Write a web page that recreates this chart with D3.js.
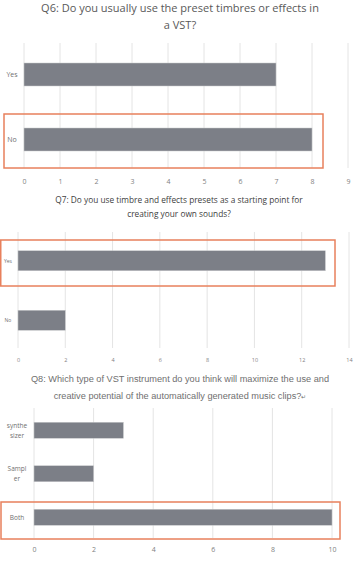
<!DOCTYPE html>
<html>
<head>
<meta charset="utf-8">
<script src="https://cdn.jsdelivr.net/npm/d3@7"></script>
<style>
body{margin:0;background:#fff;}
svg{display:block;}
</style>
</head>
<body>
<div id="content"></div>
<script>
// Q6
var q6_title = ["Q6: Do you usually use the preset timbres or effects in", "a VST?"];
var q6_cats = [["Yes"], ["No"]];
var q6_values = [7, 8];
var q6_ticks = [0, 1, 2, 3, 4, 5, 6, 7, 8, 9];

// Q7
var q7_title = ["Q7: Do you use timbre and effects presets as a starting point for", "creating your own sounds?"];
var q7_cats = [["Yes"], ["No"]];
var q7_values = [13, 2];
var q7_ticks = [0, 2, 4, 6, 8, 10, 12, 14];

// Q8
var q8_title = ["Q8: Which type of VST instrument do you think will maximize the use and", "creative potential of the automatically generated music clips?"];
var q8_cats = [["synthe", "sizer"], ["Sampl", "er"], ["Both"]];
var q8_values = [3, 2, 10];
var q8_ticks = [0, 2, 4, 6, 8, 10];

var W = 354, H = 562;
var svg = d3.select('#content').append('svg')
    .attr('width', W)
    .attr('height', H);

function plot_bars(o){
    var g = svg.append('g');
    var x = d3.scaleLinear()
        .domain([0, d3.max(o.ticks)])
        .range([o.x0, o.x1]);
    var keys = o.cats.map(function(c){ return c.join(''); });
    var y = d3.scalePoint()
        .domain(keys)
        .range([o.y0, o.y1])
        .padding(0.5);

    // title
    g.selectAll('text.title')
        .data(o.title)
        .enter()
        .append('text')
        .attr('class', 'title')
        .attr('x', o.titleX)
        .attr('y', function(d, i){ return o.titleY + i * o.titleGap; })
        .attr('text-anchor', 'middle')
        .attr('font-family', o.titleFont)
        .attr('font-size', o.titleSize)
        .attr('fill', o.titleColor)
        .text(function(d){ return d; });

    // grid
    g.append('g')
        .selectAll('line')
        .data(o.ticks)
        .enter()
        .append('line')
        .attr('x1', function(t){ return x(t); })
        .attr('x2', function(t){ return x(t); })
        .attr('y1', o.gridTop)
        .attr('y2', o.gridBottom)
        .attr('stroke', '#e4e4e4')
        .attr('stroke-width', 1);

    // tick labels via axis
    var ax = g.append('g')
        .attr('transform', 'translate(0,' + o.tickY + ')')
        .call(d3.axisBottom(x).tickValues(o.ticks).tickSize(0).tickPadding(0));
    ax.select('.domain').remove();
    ax.selectAll('text')
        .attr('font-family', o.tickFont)
        .attr('font-size', o.tickSize)
        .attr('fill', '#7f7f7f')
        .attr('dy', '0.35em');

    // bars
    g.append('g')
        .selectAll('rect')
        .data(o.values)
        .enter()
        .append('rect')
        .attr('x', x(0))
        .attr('y', function(v, i){ return y(keys[i]) - o.barH / 2; })
        .attr('width', function(v){ return x(v) - x(0); })
        .attr('height', o.barH)
        .attr('fill', '#7c7f87')
        .attr('stroke', '#c8c9cc')
        .attr('stroke-width', 0.5);

    // category labels
    var lab = g.append('g')
        .selectAll('text')
        .data(o.cats)
        .enter()
        .append('text')
        .attr('text-anchor', 'middle')
        .attr('font-family', o.tickFont)
        .attr('font-size', o.catSize)
        .attr('fill', '#6f6f6f')
        .attr('x', o.catX)
        .attr('y', function(c, i){
            return y(keys[i]) - (c.length - 1) * o.catGap / 2;
        });
    lab.selectAll('tspan')
        .data(function(c){ return c; })
        .enter()
        .append('tspan')
        .attr('x', o.catX)
        .attr('dy', function(d, i){ return i == 0 ? '0.35em' : o.catGap; })
        .text(function(d){ return d; });

    // highlight box
    var hb = o.box;
    g.append('rect')
        .attr('x', hb[0])
        .attr('y', hb[1])
        .attr('width', hb[2] - hb[0])
        .attr('height', hb[3] - hb[1])
        .attr('fill', 'none')
        .attr('stroke', '#e8805c')
        .attr('stroke-width', 1.5);
    return g;
}

plot_bars({
    title: q6_title, cats: q6_cats, values: q6_values, ticks: q6_ticks,
    x0: 24, x1: 348, y0: 42, y1: 172,
    titleX: 180, titleY: 12, titleGap: 17, titleSize: 11, titleFont: 'Open Sans', titleColor: '#595959',
    gridTop: 43, gridBottom: 168, tickY: 182, tickSize: 7, tickFont: 'Open Sans',
    barH: 23, catX: 12, catSize: 7, catGap: 9,
    box: [4, 114, 323, 168]
});

plot_bars({
    title: q7_title, cats: q7_cats, values: q7_values, ticks: q7_ticks,
    x0: 18, x1: 349, y0: 231, y1: 350,
    titleX: 179, titleY: 203, titleGap: 14, titleSize: 8.3, titleFont: 'Open Sans', titleColor: '#404040',
    gridTop: 232, gridBottom: 348, tickY: 360, tickSize: 5.5, tickFont: 'Open Sans',
    barH: 20, catX: 8, catSize: 5, catGap: 7,
    box: [0.75, 240, 335, 286]
});

var g8 = plot_bars({
    title: q8_title, cats: q8_cats, values: q8_values, ticks: q8_ticks,
    x0: 34, x1: 332, y0: 408.5, y1: 539,
    titleX: 180, titleY: 382, titleGap: 16.5, titleSize: 9.2, titleFont: 'Liberation Sans', titleColor: '#6f6f6f',
    gridTop: 408, gridBottom: 538, tickY: 550, tickSize: 7, tickFont: 'Open Sans',
    barH: 16, catX: 17, catSize: 6.5, catGap: 10,
    box: [1, 502, 340, 539]
});
g8.selectAll('text.title').filter(function(d, i){ return i == 1; })
    .append('tspan')
    .attr('font-size', 6)
    .text('\u21B5');
</script>
</body>
</html>
